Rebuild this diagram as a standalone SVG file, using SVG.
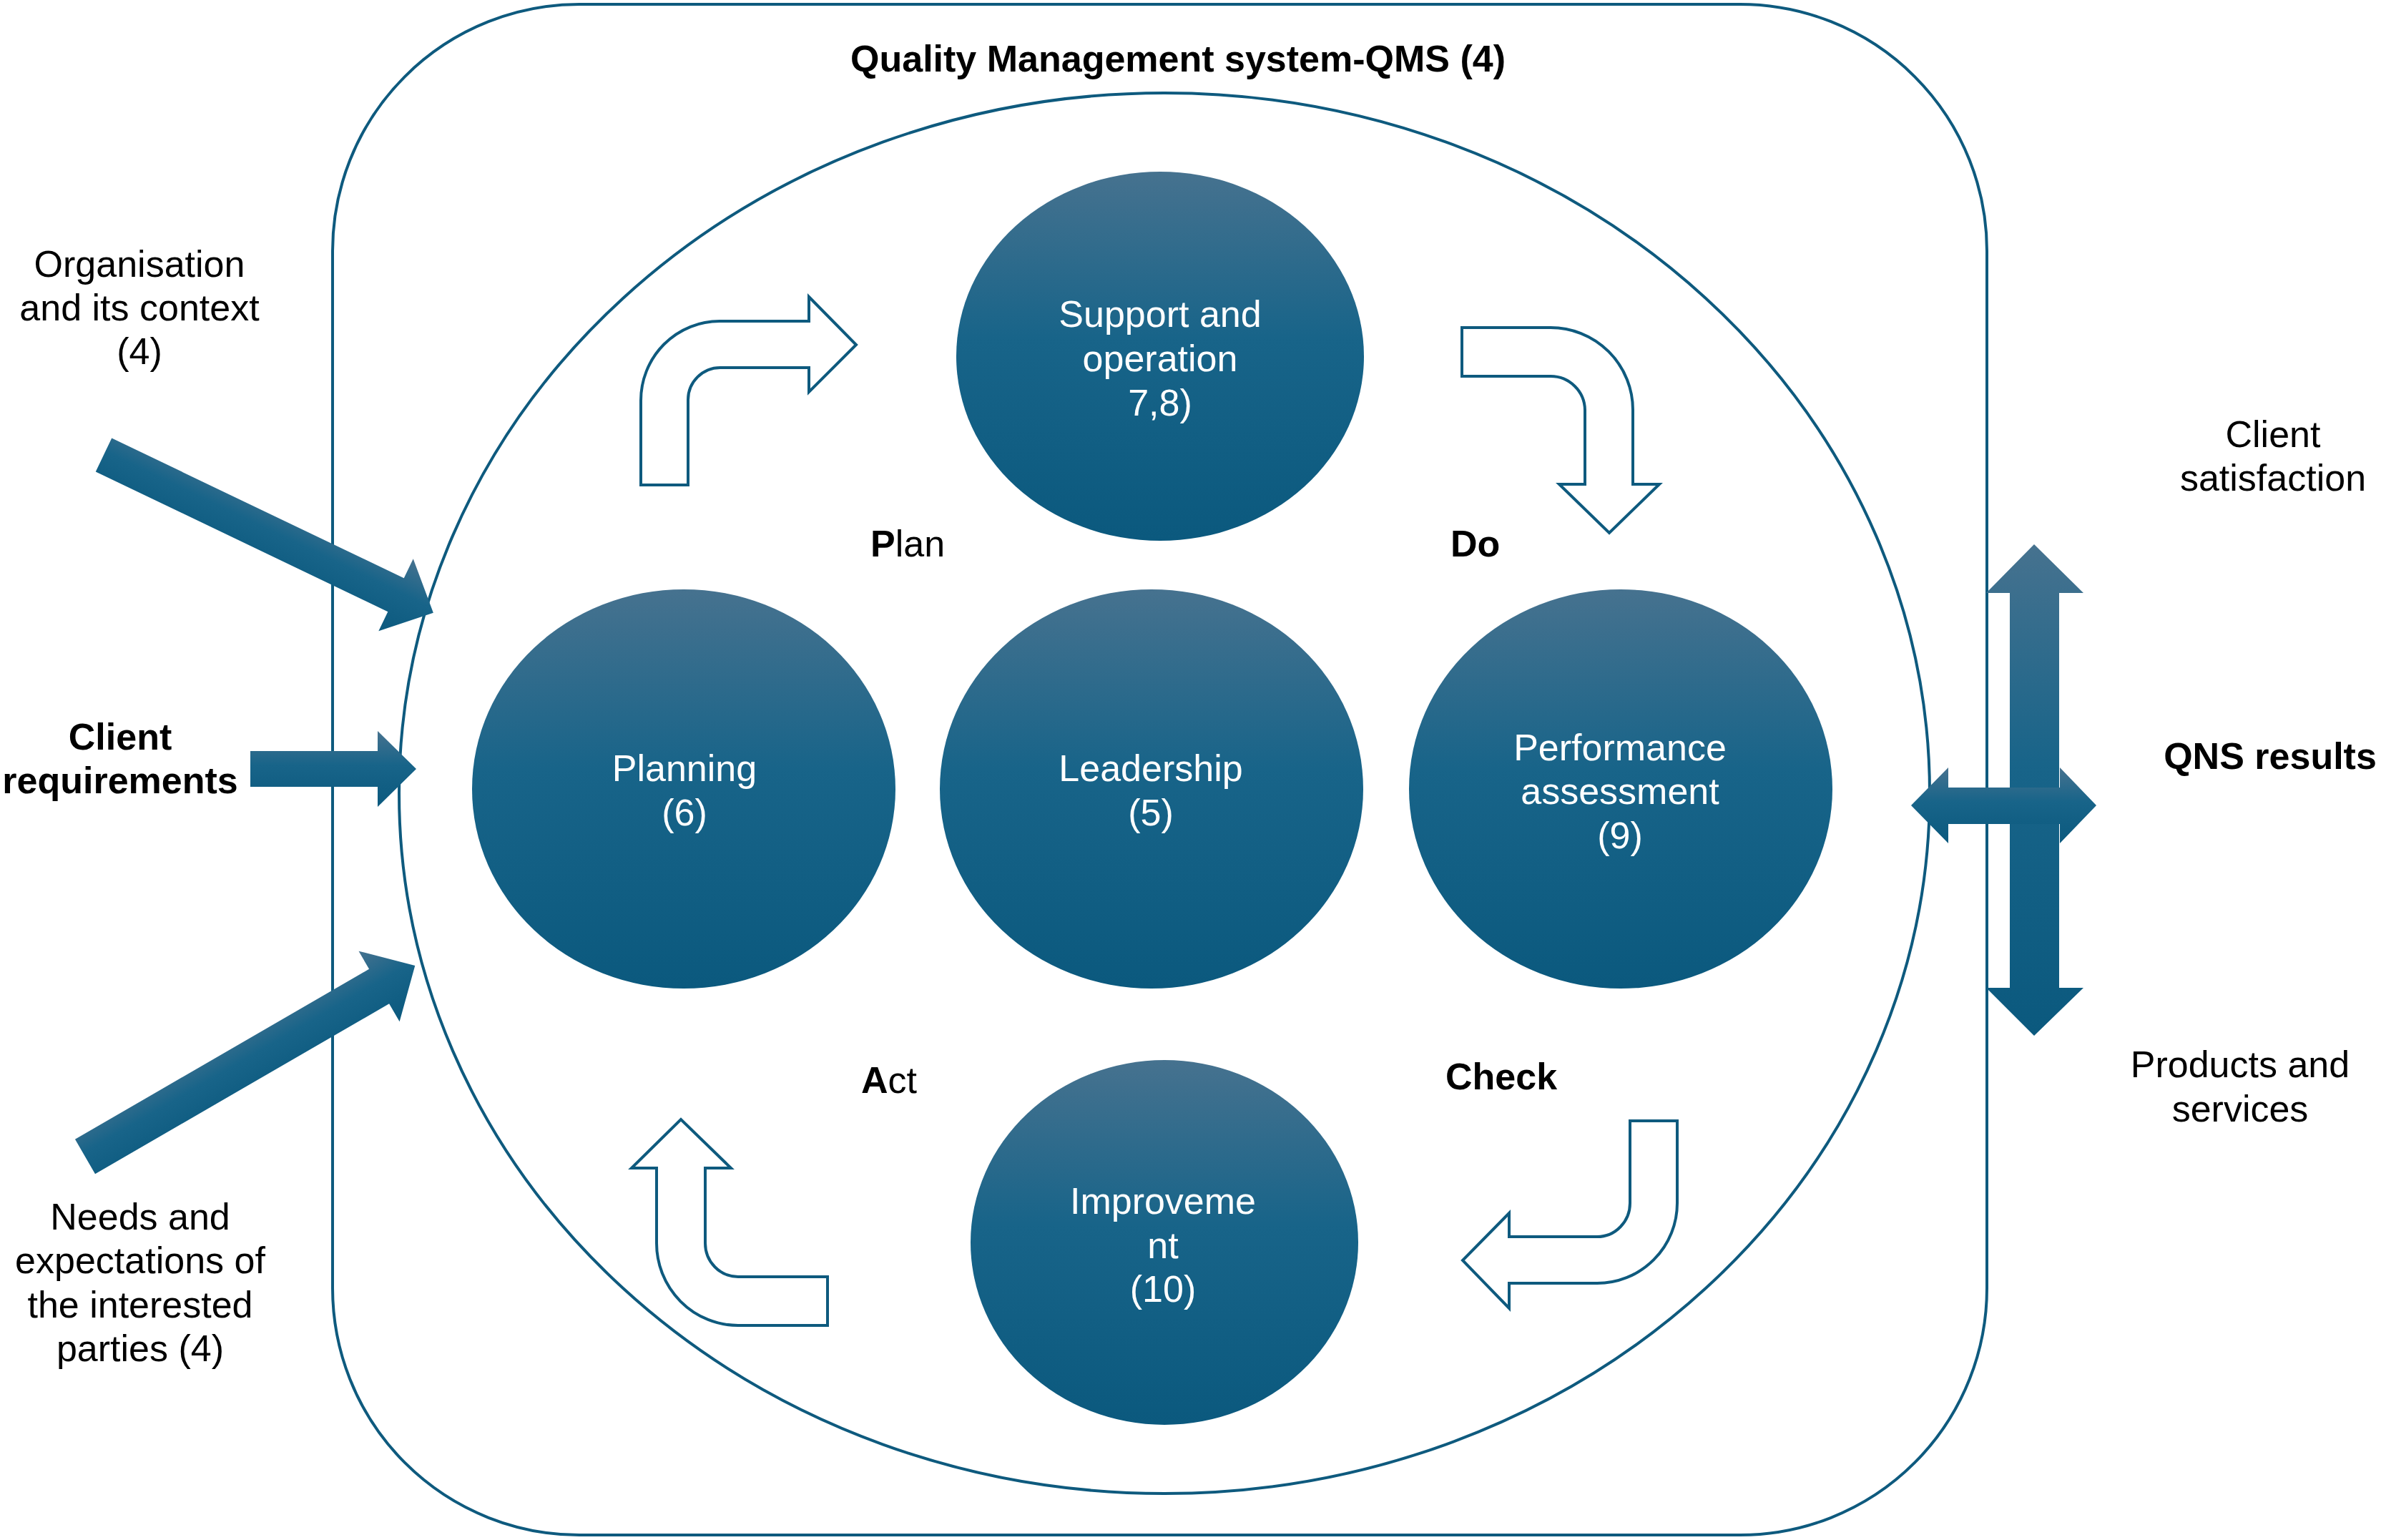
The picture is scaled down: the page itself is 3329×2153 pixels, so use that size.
<svg xmlns="http://www.w3.org/2000/svg" width="3329" height="2153" viewBox="0 0 3329 2153">
<defs>
<linearGradient id="g" x1="0" y1="0" x2="0" y2="1">
<stop offset="0" stop-color="#46728f"/>
<stop offset="0.45" stop-color="#186489"/>
<stop offset="1" stop-color="#0b597e"/>
</linearGradient>
<style>
.ln{fill:none;stroke:#0e5a7e;stroke-width:4}
.ho{fill:#ffffff;stroke:#0e5a7e;stroke-width:4;stroke-linejoin:miter}
.fi{fill:url(#g);stroke:none}
.t{font-family:"Liberation Sans",Arial,Helvetica,sans-serif;font-size:52px;fill:#000;text-anchor:middle}
.b{font-weight:bold}
.w{fill:#ffffff}
.s{text-anchor:start}
</style>
</defs>
<rect width="3329" height="2153" fill="#ffffff"/>

<g id="qms">
<rect class="ln" x="465" y="6" width="2313" height="2140" rx="345" ry="345"/>
<text class="t b" x="1647" y="100">Quality Management system-QMS (4)</text>
</g>
<g id="cycle">
<ellipse class="ln" cx="1628" cy="1109" rx="1070" ry="979"/>
</g>

<g id="support">
<ellipse class="fi" cx="1622" cy="498" rx="285" ry="258"/>
<text class="t w" x="1622" y="457">Support and</text>
<text class="t w" x="1622" y="519">operation</text>
<text class="t w" x="1622" y="581">7,8)</text>
</g>
<g id="planning">
<ellipse class="fi" cx="956" cy="1103" rx="296" ry="279"/>
<text class="t w" x="957" y="1092">Planning</text>
<text class="t w" x="957" y="1154">(6)</text>
</g>
<g id="leadership">
<ellipse class="fi" cx="1610" cy="1103" rx="296" ry="279"/>
<text class="t w" x="1609" y="1092">Leadership</text>
<text class="t w" x="1609" y="1154">(5)</text>
</g>
<g id="performance">
<ellipse class="fi" cx="2266" cy="1103" rx="296" ry="279"/>
<text class="t w" x="2265" y="1063">Performance</text>
<text class="t w" x="2265" y="1124">assessment</text>
<text class="t w" x="2265" y="1186">(9)</text>
</g>
<g id="improvement">
<ellipse class="fi" cx="1628" cy="1737" rx="271" ry="255"/>
<text class="t w" x="1626" y="1697">Improveme</text>
<text class="t w" x="1626" y="1759">nt</text>
<text class="t w" x="1626" y="1820">(10)</text>
</g>

<g id="labels">
<text class="t s" x="1217" y="778"><tspan class="b">P</tspan>lan</text>
<text class="t b s" x="2028" y="778">Do</text>
<text class="t s" x="1204" y="1528"><tspan class="b">A</tspan>ct</text>
<text class="t b s" x="2021" y="1523">Check</text>
</g>

<g id="organisation">
<text class="t" x="195" y="387">Organisation</text>
<text class="t" x="195" y="448">and its context</text>
<text class="t" x="195" y="509">(4)</text>
</g>
<g id="client-req">
<text class="t b" x="168" y="1048">Client</text>
<text class="t b" x="168" y="1109">requirements</text>
</g>
<g id="needs">
<text class="t" x="196" y="1719">Needs and</text>
<text class="t" x="196" y="1780">expectations of</text>
<text class="t" x="196" y="1842">the interested</text>
<text class="t" x="196" y="1903">parties (4)</text>
</g>
<g id="client-sat">
<text class="t" x="3178" y="625">Client</text>
<text class="t" x="3178" y="686">satisfaction</text>
</g>
<g id="qns">
<text class="t b" x="3174" y="1075">QNS results</text>
</g>
<g id="products">
<text class="t" x="3132" y="1506">Products and</text>
<text class="t" x="3132" y="1568">services</text>
</g>

<g id="connectors">
<path class="ho" d="M 896 678 L 896 560 A 110 111 0 0 1 1006 449 L 1131 449 L 1131 415 L 1197 482 L 1131 548 L 1131 514 L 1007 514 A 45 45 0 0 0 962 559 L 962 678 Z"/>
<path class="ho" d="M 2044 458 L 2168 458 A 115 115 0 0 1 2283 573 L 2283 677 L 2320 677 L 2250 745 L 2180 677 L 2216 677 L 2216 573 A 48 48 0 0 0 2168 526 L 2044 526 Z"/>
<path class="ho" d="M 2279 1567 L 2345 1567 L 2345 1682 A 112 112 0 0 1 2233 1794 L 2110 1794 L 2110 1829 L 2045 1762 L 2110 1696 L 2110 1729 L 2233 1729 A 46 47 0 0 0 2279 1682 Z"/>
<path class="ho" d="M 1157 1785 L 1157 1853 L 1032 1853 A 114 115 0 0 1 918 1738 L 918 1633 L 883 1633 L 952 1565 L 1022 1633 L 986 1633 L 986 1738 A 46 47 0 0 0 1032 1785 Z"/>

<polygon class="fi" transform="translate(145 636) rotate(25.6)" points="0,-26 453,-26 453,-56 511,0 453,56 453,26 0,26"/>
<polygon class="fi" points="350,1050 528,1050 528,1022 582,1075 528,1128 528,1100 350,1100"/>
<polygon class="fi" transform="translate(119 1617) rotate(-30.07)" points="0,-28 475,-28 475,-57 533,0 475,57 475,28 0,28"/>

<polygon class="fi" points="2844,761 2913,829 2879,829 2879,1381 2913,1381 2844,1448 2777,1381 2810,1381 2810,829 2777,829"/>
<polygon class="fi" points="2672,1126 2724,1073 2724,1101 2880,1101 2880,1073 2931,1126 2880,1179 2880,1152 2724,1152 2724,1179"/>
</g>
</svg>
